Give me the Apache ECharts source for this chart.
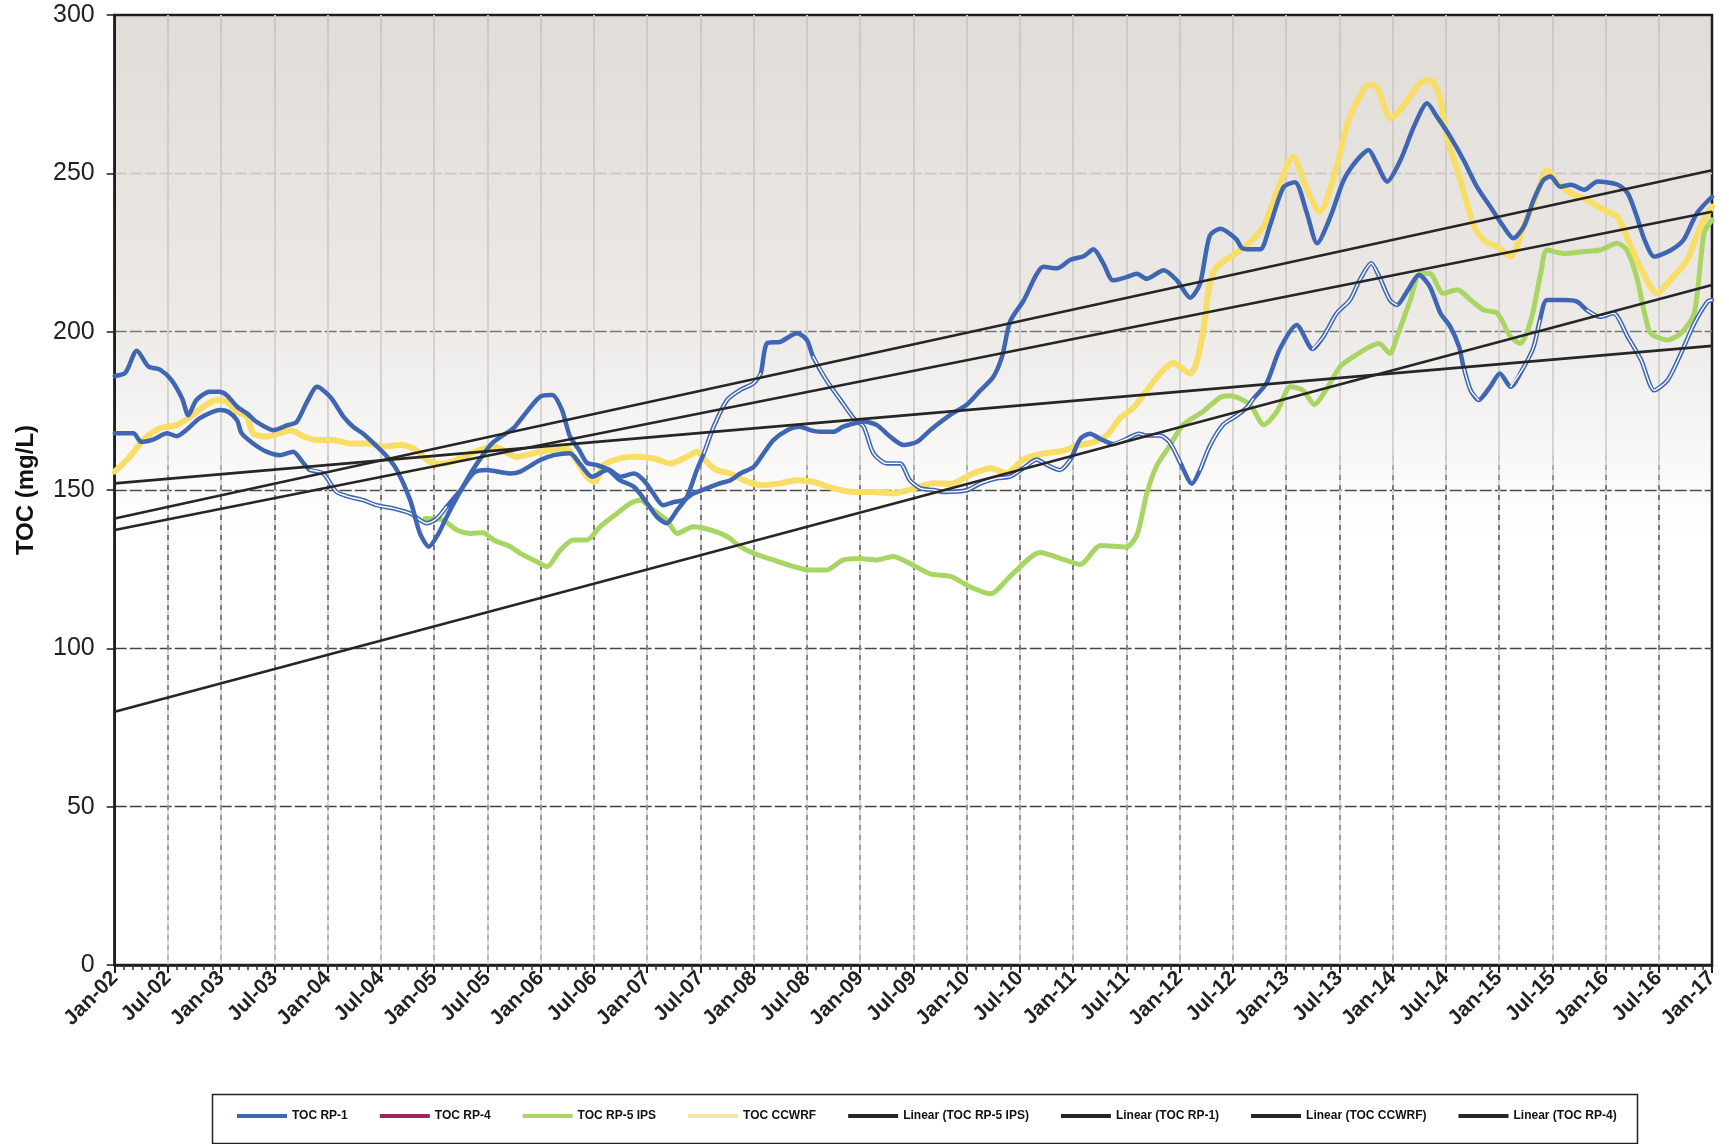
<!DOCTYPE html>
<html><head><meta charset="utf-8">
<script src="https://cdn.jsdelivr.net/npm/echarts@6/dist/echarts.min.js"></script>
<style>html,body{margin:0;padding:0;background:#fff}#c{width:1729px;height:1144px}</style>
</head><body><div id="c"></div>
<script>
// x = months since Jan-02, y = TOC (mg/L)
const tickLabels = ['Jan-02','Jul-02','Jan-03','Jul-03','Jan-04','Jul-04','Jan-05','Jul-05','Jan-06','Jul-06',
  'Jan-07','Jul-07','Jan-08','Jul-08','Jan-09','Jul-09','Jan-10','Jul-10','Jan-11','Jul-11','Jan-12','Jul-12',
  'Jan-13','Jul-13','Jan-14','Jul-14','Jan-15','Jul-15','Jan-16','Jul-16','Jan-17'];

const rp1 = [[0,186],[1.2,187],[2.5,194],[3.8,189],[5.1,188],[6.4,184.7],[7.6,178.9],[8.3,173.6],[9.2,178.4],[10.7,181],
  [11.8,181],[12.6,180],[13.8,176.3],[14.9,174.2],[16,171.5],[17.9,168.9],[19.4,170.4],[20.5,171.5],[21.6,177.4],[22.8,182.6],
  [24.3,179.4],[25.8,173.1],[26.9,169.9],[28,167.8],[29.2,164.7],[30.7,160.5],[31.8,156.3],[33.3,146.8],[34.4,136.3],[35.4,132.1],
  [36.5,136.3],[37.4,141.5],[38.6,147.8],[40.1,155.2],[41.6,161.5],[42.7,165.2],[44.9,169.4],[45.7,172.1],[47.9,179.4],[49.3,180],
  [50.4,175.3],[51.3,166.9],[52.3,162.8],[53.2,158.6],[54.3,157.9],[55.8,156.3],[57,154.2],[58.5,155.2],[59.6,153.1],[60.7,148.9],
  [61.8,145.2],[63,146.2],[64.1,146.8],[65.2,148.9],[66.7,150.5],[68.2,152.1],[69.4,153.1],[70.5,155.2],[72,157.3],[73.1,161.5],
  [74.2,165.7],[75.8,168.9],[77.2,170],[78.4,168.9],[79.5,168.4],[81,168.4],[82.1,170],[83.3,171],[84.4,171.6],[85.9,170.5],
  [87.4,166.8],[88.9,164.2],[90.4,165.2],[91.9,168.9],[94.2,173.8],[96,176.9],[97.5,181.3],[99,185.7],[100,192.2],[100.9,203.2],
  [102.4,209.7],[104.7,220.5],[106.2,220],[107.7,222.7],[109.2,223.8],[110.3,226],[111.4,221.6],[112.5,216.2],[114,217.2],[115.2,218.3],
  [116.3,216.7],[118.2,219.4],[119.7,216.2],[121.2,210.7],[122.3,215.1],[123.4,230.3],[124.6,232.5],[126.4,229.2],[127,226.5],[127.9,226],
  [129.1,226],[130.2,233.6],[131.7,245.6],[133,247.2],[134.3,237.9],[135.5,227.9],[137,236.3],[138.5,247.9],[140,254.2],[141.3,257.4],
  [142.2,253.2],[143.4,247.4],[144.9,254.2],[146.4,264.7],[147.9,272.1],[149,267.9],[150.5,261.6],[152,254.2],[153.5,245.8],[155,239.5],
  [156.5,233.2],[157.6,229.5],[158.8,233.2],[159.9,241.6],[161,247.9],[161.8,249],[162.9,245.8],[164.1,246.4],[165.6,244.8],[167.1,247.4],
  [169.4,246.4],[170.5,243.7],[171.4,237.4],[172.4,229],[173.5,223.7],[175.4,225.8],[176.8,229],[178.3,237.4],[180,242.6]];

const rp4 = [[0,167.9],[2.1,167.9],[3,165.2],[4.4,166],[5.9,167.9],[7,167],[8.1,169],[9.6,172.7],[11.9,175.3],[12.8,174.7],
  [13.8,172],[14.3,167.9],[15.6,164.7],[17.1,162.1],[18.6,161],[20.1,162.1],[21.3,158.4],[22,156.3],[23.5,155.2],[25,149.4],
  [26.5,147.8],[28,146.8],[29.5,145.2],[31.4,144.2],[33.3,142.6],[35.2,139.5],[36.3,141],[37.4,144.7],[39,150],[40.5,155.5],
  [41.9,156.3],[44.6,155.2],[45.7,155.8],[47.9,159.4],[49.5,161],[51.3,161.6],[52.5,158],[53.8,154.2],[55.5,156.3],[56.9,153.1],
  [58.5,151],[60,145.8],[61.1,141.5],[62.2,139.5],[63.4,143.7],[64.5,147.9],[65.6,156.3],[66.4,161.6],[67.5,170],[69,178.4],
  [70.5,181.6],[72,183.7],[72.8,186.8],[73.5,196.3],[75,196.8],[76.9,199.5],[78,197.4],[78.7,192.1],[80.2,184.7],[81.8,178.4],
  [83.3,172.6],[84.4,170],[85.5,161.6],[87,158.4],[88.5,158.4],[89.6,153.1],[90.8,150.5],[92.3,150],[93.4,149.4],[96,149.9],
  [97.5,152],[99.4,153.7],[100.9,154.2],[102.4,156.9],[103.9,159.6],[105,158],[106.5,156.3],[107.7,159.6],[108.8,166.1],[109.9,167.8],
  [111.1,166.1],[112.5,164.5],[114,166.1],[115.4,167.8],[116.3,167.2],[117.8,167.2],[118.9,165],[120.1,158.5],[121.4,152],[122.3,156.3],
  [123.4,163.9],[124.9,170.6],[126.4,173.4],[127.6,176.1],[128.3,178.8],[129.8,183.7],[131.3,194.5],[133.2,202.1],[135,194.5],[136.2,198.4],
  [137.7,205.8],[139.2,210],[140.3,216.3],[141.6,221.6],[142.5,217.4],[143.7,210],[144.5,208.4],[145.5,212.1],[147,217.9],[148.2,214.2],
  [149.4,205.8],[150.5,201.6],[151.5,195.2],[152,188.9],[152.8,181.5],[153.7,178.4],[155,182.6],[156.1,186.8],[157.3,182.6],[158.8,188.9],
  [159.9,195.2],[160.6,203.6],[161.4,210],[163.3,210],[164.8,209.5],[165.9,206.8],[167.4,204.7],[168.9,205.8],[170.5,198.4],[172,191.1],
  [173.5,181.5],[175,184.7],[176.5,193.1],[178,202.6],[179.5,209.5],[180,210]];

const rp5 = [[35,141],[37,140.5],[38.6,137.3],[40.1,136.3],[41.5,136.5],[42.7,134.2],[44.6,132.1],[45.7,130],[47.2,127.9],[48.7,125.8],
  [50.2,131],[51.7,134.2],[53.2,134.2],[54.7,138.4],[56.6,142.6],[58.1,145.8],[59.2,146.8],[60.7,143.7],[62.2,140.5],[63.4,136.3],
  [65.2,138.4],[67.1,137.4],[69,135.3],[70.5,132.1],[72,130],[74.2,127.9],[76.5,125.8],[78.4,124.7],[80.2,124.7],[82.1,127.9],
  [84,128.4],[85.9,127.9],[87.7,129],[89.6,126.8],[91.9,123.5],[94.2,122.7],[96.4,119.4],[98.7,117.2],[100.9,122.7],[104.3,130.3],
  [106.9,128.1],[108.8,126.5],[111.1,132.5],[114,132],[115.2,135.8],[116.3,148.8],[117.4,157.5],[118.9,164],[120.4,170.6],[122.7,174.9],
  [124.6,179.3],[125.7,179.8],[127.9,177.1],[129.5,170.6],[131,174.9],[132.5,182.6],[133.9,181.5],[135.2,177],[136.5,181.6],[138.1,189],
  [139.6,192.1],[141.4,195.2],[142.5,196.3],[143.7,193.1],[144.5,198.4],[146,210],[147.1,218.4],[148.2,218.4],[149.7,212.1],[151.3,213.2],
  [152.8,210],[154.3,206.8],[155.8,205.8],[157.3,198.4],[158.4,196.3],[159.6,203.7],[160.7,218.4],[161.4,225.8],[163.3,224.7],[165.6,225.3],
  [167.4,225.8],[169.3,227.9],[170.4,225.8],[171.5,217.4],[172.4,205.8],[173.1,199.5],[175,197.4],[176.5,199.5],[178,205.8],[179.1,231.1],
  [180,235.3]];

const ccwrf = [[0,155.8],[1.7,160.5],[3.2,165.8],[5.1,169.5],[7,170.5],[8.5,173.1],[10,176.3],[11.5,178.4],[12.6,177.9],[13.8,174.7],
  [14.9,173.1],[15.6,167.9],[17.1,166.9],[18.6,167.9],[19.8,168.9],[21.3,166.9],[22.8,165.8],[24.6,165.8],[26.5,164.7],[28.4,164.7],
  [30.3,163.7],[32.2,164.2],[33.7,163.1],[35.5,158.9],[37,158.4],[39,160],[40.5,162],[42.7,163.7],[45.3,160.5],[47.9,162.1],
  [50.9,163.1],[52,159.4],[53.2,154.2],[54.1,152.6],[55.1,157.9],[57,160],[58.8,160.5],[60.7,160],[62.6,158.4],[64.5,160.5],
  [65.6,162.1],[66.7,158.9],[67.8,156.3],[69.4,155.2],[70.9,153.1],[72.8,151.5],[75,152.1],[76.9,153.1],[78.7,152.6],[81,150.5],
  [83.3,149.4],[85.5,149.4],[87.8,148.9],[90,150.5],[92.3,152.1],[94.2,152],[96.8,155.3],[98.7,156.9],[100.5,155.3],[102.4,159.6],
  [104.3,161.3],[106.9,162.4],[108.4,164],[110.3,165.1],[111.8,167.3],[113.3,172.7],[114.8,176],[116.3,181.4],[117.8,186.8],[119.3,190.1],
  [121.2,186.8],[121.9,190.1],[122.7,200.9],[123.4,215.1],[124.2,220.5],[126.4,224.9],[127.9,228.1],[129.5,233.5],[131,244.4],[132.8,255.2],
  [134.3,245.4],[135.8,237.8],[137.7,252.1],[138.8,264.7],[139.9,272.1],[141.3,277.9],[142.2,277.4],[143.8,267.4],[145.2,271.1],[147.1,278.5],
  [148.3,279.5],[149.4,273.2],[150.1,261.6],[151.3,251.1],[152.4,240.5],[153.2,233.2],[154.3,228.9],[155.8,226.8],[157.3,223.7],[158.8,233.2],
  [160.3,243.7],[161.4,251.1],[162.6,246.9],[164.1,243.7],[165.9,241.6],[167.8,238.4],[169.3,236.3],[170.4,230],[171.9,220.5],[173.8,212.1],
  [175.3,216.3],[177.2,222.6],[178.7,233.2],[180,239.5]];

// Linear trend lines: value at Jan-02 and at Jan-17
const trendMonths = [0, 180];
const trendRp5 = [80, 214.7];
const trendRp1 = [137.4, 237.9];
const trendCcwrf = [141, 251];
const trendRp4 = [152.1, 195.5];

// month spans where the RP-4 line is printed hollow
const rp4HollowRanges = [[22,38.6],[66.4,72.8],[78.7,108.4],[111.3,120.3],[122.3,129.5],[134.6,144.8],[151.6,154],[156.8,160.6],[165.5,180]];

const BLUE = '#3e66b3', GREEN = '#a8d563', YELLOW = '#f8dd66', BLACK = '#262626';
const TOP = 15, BOT = 965;
const LG = echarts.graphic.LinearGradient;
const chart = echarts.init(document.getElementById('c'));

const toPairs = (xs, ys) => xs.map((x, i) => [x, ys[i]]);
const inHollow = m => rp4HollowRanges.some(r => m >= r[0] && m <= r[1]);
const rp4Core = rp4.map(p => inHollow(p[0]) ? p : [p[0], '-']);

const lineSeries = (name, data, color, width, extra) => Object.assign({
  name, type: 'line', data, showSymbol: false, symbol: 'none', smooth: 0.25,
  lineStyle: { color, width, cap: 'round', join: 'round' }, itemStyle: { color }, animation: false
}, extra || {});
const trend = (name, ys) => ({
  name, type: 'line', data: toPairs(trendMonths, ys), showSymbol: false, symbol: 'none',
  lineStyle: { color: BLACK, width: 2.6 }, itemStyle: { color: BLACK }, z: 5, animation: false
});
const legendItem = (name, color) => ({ name, icon: 'rect', itemStyle: { color, borderWidth: 0 } });

const option = {
  animation: false,
  textStyle: { fontFamily: 'Liberation Sans, Arial, sans-serif' },
  grid: {
    left: 114.7, right: 17, top: TOP, bottom: 1144 - BOT, show: true,
    borderColor: '#1e1e1e', borderWidth: 2.5,
    backgroundColor: new LG(0, 0, 0, 1, [
      { offset: 0, color: '#e0dcd8' }, { offset: 0.3, color: '#ebe8e5' },
      { offset: 0.5, color: '#fbfbfa' }, { offset: 0.56, color: '#ffffff' }, { offset: 1, color: '#ffffff' }])
  },
  xAxis: [{
    type: 'value', min: 0, max: 180, interval: 6,
    axisLine: { show: true, lineStyle: { color: '#1e1e1e', width: 2.5 } },
    axisTick: { show: true, length: 8, lineStyle: { color: '#1e1e1e', width: 2 } },
    minorTick: { show: true, splitNumber: 6, length: 5, lineStyle: { color: '#333', width: 1.5 } },
    axisLabel: {
      rotate: 45, margin: 10, fontSize: 21, fontWeight: 'bold', color: '#222',
      formatter: v => tickLabels[Math.round(v / 6)] || ''
    },
    splitLine: { show: true, showMinLine: false, showMaxLine: false, lineStyle: { width: 2,
      color: new LG(0, TOP, 0, BOT, [
        { offset: 0, color: '#cdc8c3' }, { offset: 0.4, color: '#d6d3d0' }, { offset: 1, color: '#dddddd' }], true) } }
  }, {
    type: 'value', min: 0, max: 180, interval: 6, position: 'top',
    axisLine: { show: false }, axisTick: { show: false }, axisLabel: { show: false },
    splitLine: { show: true, showMinLine: false, showMaxLine: false, lineStyle: { width: 1.5, type: [5, 5],
      color: new LG(0, TOP, 0, BOT, [
        { offset: 0, color: 'rgba(40,40,40,0)' }, { offset: 0.46, color: 'rgba(40,40,40,0)' },
        { offset: 0.5, color: 'rgba(40,40,40,0.75)' }, { offset: 0.8, color: 'rgba(40,40,40,0.55)' },
        { offset: 1, color: 'rgba(40,40,40,0.25)' }], true) } }
  }],
  yAxis: {
    type: 'value', min: 0, max: 300, interval: 50,
    name: 'TOC (mg/L)', nameLocation: 'middle', nameGap: 76,
    nameTextStyle: { fontSize: 24, fontWeight: 'bold', color: '#111' },
    axisLine: { show: true, lineStyle: { color: '#1e1e1e', width: 2.5 } },
    axisTick: { show: true, length: 8, lineStyle: { color: '#1e1e1e', width: 1.5 } },
    axisLabel: { fontSize: 25, color: '#222', margin: 20 },
    splitLine: { show: true, showMinLine: false, showMaxLine: false, lineStyle: { width: 1.4, type: [12, 3],
      color: new LG(0, TOP, 0, BOT, [
        { offset: 0, color: '#c9c4bf' }, { offset: 0.2, color: '#c9c4bf' },
        { offset: 0.32, color: '#7a7a7a' }, { offset: 0.5, color: '#4a4a4a' }, { offset: 1, color: '#3c3c3c' }], true) } }
  },
  legend: {
    left: 237, top: 1110, padding: 0, itemGap: 32, itemWidth: 50, itemHeight: 4,
    textStyle: { fontSize: 12, fontWeight: 'bold', color: '#111' },
    data: [
      legendItem('TOC RP-1', BLUE),
      legendItem('TOC RP-4', '#a0245e'),
      legendItem('TOC RP-5 IPS', GREEN),
      legendItem('TOC CCWRF', '#f3e6a8'),
      legendItem('Linear (TOC RP-5 IPS)', BLACK),
      legendItem('Linear (TOC RP-1)', BLACK),
      legendItem('Linear (TOC CCWRF)', BLACK),
      legendItem('Linear (TOC RP-4)', BLACK)
    ]
  },
  graphic: [{
    type: 'rect', left: 210, top: 1092, shape: { width: 1425, height: 49 },
    style: { fill: 'none', stroke: '#222', lineWidth: 1.5 }, z: 10
  }],
  series: [
    lineSeries('TOC RP-5 IPS', rp5, GREEN, 5),
    lineSeries('TOC CCWRF', ccwrf, YELLOW, 6),
    lineSeries('TOC RP-4', rp4, BLUE, 4.5),
    lineSeries('rp4-core', rp4Core, '#ffffff', 1.4, { connectNulls: false, silent: true }),
    lineSeries('TOC RP-1', rp1, BLUE, 4.5),
    trend('Linear (TOC RP-5 IPS)', trendRp5),
    trend('Linear (TOC RP-1)', trendRp1),
    trend('Linear (TOC CCWRF)', trendCcwrf),
    trend('Linear (TOC RP-4)', trendRp4)
  ]
};
chart.setOption(option);
</script>
</body></html>
